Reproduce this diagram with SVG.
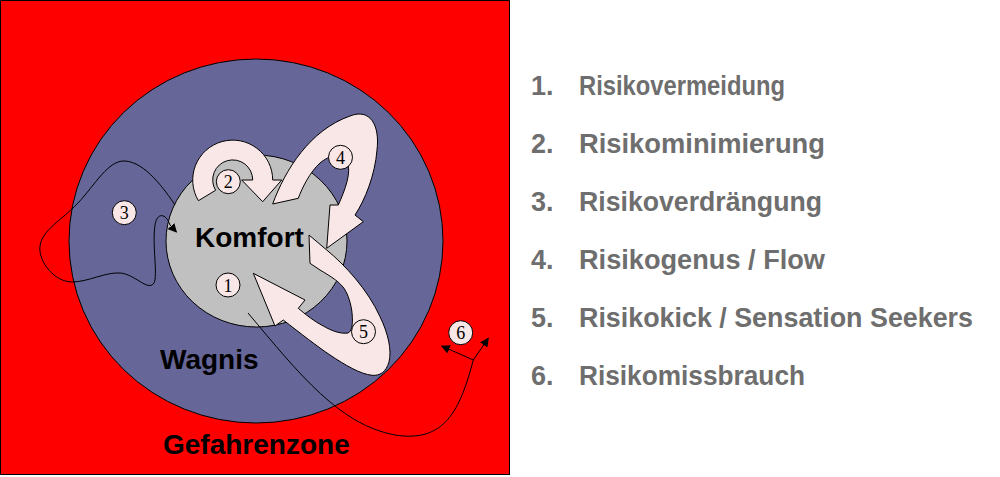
<svg xmlns="http://www.w3.org/2000/svg" width="1000" height="477" viewBox="0 0 1000 477">
<defs>
<marker id="ah" viewBox="0 0 10 10" refX="9" refY="5" markerWidth="9" markerHeight="9" markerUnits="userSpaceOnUse" orient="auto">
<path d="M0,0 L10,5 L0,10 Z" fill="#000"/>
</marker>
</defs>
<style>
.zone{font-family:"Liberation Sans",Arial,sans-serif;font-weight:bold;font-size:28px;fill:#000}
.blk{fill:#f9e6e6;stroke:#000;stroke-width:1}
.num circle{fill:#f9e6e6;stroke:#000;stroke-width:1}
.num text{font-family:"Liberation Serif","Times New Roman",serif;font-size:18px;fill:#000;text-anchor:middle}
.line{fill:none;stroke:#000;stroke-width:1}
.list{font-family:"Liberation Sans",Arial,sans-serif;font-weight:bold;font-size:27px;fill:#6e6e6e}
</style>
<rect width="1000" height="477" fill="#fff"/>
<g id="gefahrenzone">
<rect x="0.5" y="0.5" width="509" height="474" fill="#ff0000" stroke="#000" stroke-width="1"/>
</g>
<g id="wagnis">
<ellipse cx="256" cy="241" rx="187" ry="182" fill="#666699" stroke="#000" stroke-width="1"/>
</g>
<g id="komfort">
<ellipse cx="256.5" cy="241" rx="90.5" ry="86" fill="#c0c0c0" stroke="#000" stroke-width="1"/>
</g>
<g id="connectors">
<path id="arrow2" class="blk" d="M198.4,200.7 A40,40 0 1 1 272.7,180 L281.7,180 L262.7,201.7 L241.7,180 L252.7,180 A20,20 0 1 0 215.6,190.3 Z"/>
<path id="arrow4" class="blk" d="M272.7,204 C285,170 310,130 350,116 C370,108 380,125 377,150 C375,175 365,200 355,215 L363.3,221.7 L326.7,248.3 L330,205 L338.3,205 C345,190 352,172 347,161 C342,151 330,155 320,163 C310,172 302,188 298.3,198.3 Z"/>
<path id="arrow5" class="blk" d="M309,235 L326.7,250 C345,265 368,290 380,316.7 C388,333 392,350 389,362 C386,372 380,376 372,375.3 C360,374 345,365 330,355 C318,347 300,333 283.3,320 L275,326 L253.3,273.3 L305,300 L298.3,308.3 C305,314 315,322 323.3,326 C332,331 340,334 348,333 C353,331 353,320 351.7,310 C350,300 347,292 343,287 C337,280 330,276 320,270 L310,263.3 Z"/>
<path id="path3" class="line" marker-end="url(#ah)" d="M175,205 C165,190 145,162 125,161 C108,160 95,185 78,203 C62,220 42,230 40,246 C38,262 55,282 72,282 C88,282 105,272 120,273 C135,274 148,292 154,283 C158,275 152,245 155,225 C157,212 166,213 170,225 L176.5,232"/>
<path id="path1" class="line" d="M248,313 C300,375 340,425 395,435 C445,443 460,410 473.3,360"/>
<path id="path6a" class="line" marker-end="url(#ah)" d="M473.3,360 L441.7,346"/>
<path id="path6b" class="line" marker-end="url(#ah)" d="M473.3,360 L488.3,338.3"/>
</g>
<g id="labels">
<text class="zone" x="195" y="247">Komfort</text>
<text class="zone" x="160" y="369">Wagnis</text>
<text class="zone" x="163" y="454">Gefahrenzone</text>
</g>
<g id="n1" class="num"><circle cx="228" cy="285" r="12"/><text x="228" y="291.5">1</text></g>
<g id="n2" class="num"><circle cx="228.3" cy="181.7" r="12"/><text x="228.3" y="188">2</text></g>
<g id="n3" class="num"><circle cx="124.3" cy="212.7" r="12"/><text x="124.3" y="219">3</text></g>
<g id="n4" class="num"><circle cx="340.5" cy="157.3" r="12"/><text x="340.5" y="163.6">4</text></g>
<g id="n5" class="num"><circle cx="363.5" cy="331.7" r="12"/><text x="363.5" y="338">5</text></g>
<g id="n6" class="num"><circle cx="460.7" cy="332.7" r="12"/><text x="460.7" y="339">6</text></g>
<g id="legend">
<text class="list" x="531" y="95">1.</text><text class="list" x="579" y="95" textLength="206" lengthAdjust="spacingAndGlyphs">Risikovermeidung</text>
<text class="list" x="531" y="153">2.</text><text class="list" x="579" y="153" textLength="246" lengthAdjust="spacingAndGlyphs">Risikominimierung</text>
<text class="list" x="531" y="211">3.</text><text class="list" x="579" y="211" textLength="243" lengthAdjust="spacingAndGlyphs">Risikoverdrängung</text>
<text class="list" x="531" y="269">4.</text><text class="list" x="579" y="269" textLength="246" lengthAdjust="spacingAndGlyphs">Risikogenus / Flow</text>
<text class="list" x="531" y="327">5.</text><text class="list" x="579" y="327" textLength="394" lengthAdjust="spacingAndGlyphs">Risikokick / Sensation Seekers</text>
<text class="list" x="531" y="385">6.</text><text class="list" x="579" y="385" textLength="226" lengthAdjust="spacingAndGlyphs">Risikomissbrauch</text>
</g>
</svg>
